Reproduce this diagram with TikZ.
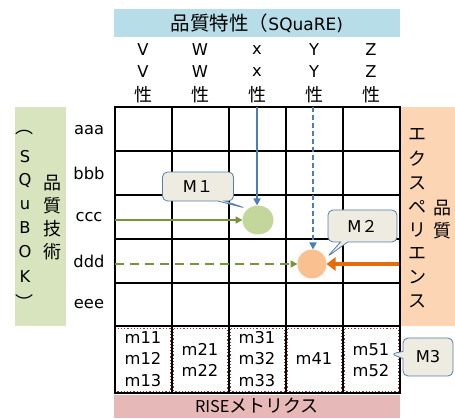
\documentclass[tikz,border=0pt]{standalone}
\usepackage{fontspec}
\setmainfont{DejaVu Sans}
\newfontfamily\jp{Noto Sans CJK JP}
\usetikzlibrary{shapes.geometric,shapes.callouts,arrows.meta}
\definecolor{hdrblue}{RGB}{183,222,232}
\definecolor{lgreen}{RGB}{215,228,189}
\definecolor{lorange}{RGB}{252,213,181}
\definecolor{rosebar}{RGB}{230,185,184}
\definecolor{circgreen}{RGB}{195,214,155}
\definecolor{circorange}{RGB}{250,192,144}
\definecolor{bluearr}{RGB}{74,126,187}
\definecolor{greenarr}{RGB}{119,147,60}
\definecolor{orangearr}{RGB}{228,108,10}
\definecolor{callfill}{RGB}{238,236,225}
\definecolor{callline}{RGB}{85,125,175}
\definecolor{reddot}{RGB}{150,55,53}
\newcommand{\lat}{\fontsize{16.3}{21.5}\selectfont}
\newcommand{\cjk}{\jp\fontsize{18}{22.5}\selectfont}
\newcommand{\tlat}{\fontsize{17}{21.5}\selectfont}
\newcommand{\tcjk}{\jp\fontsize{19.5}{22.5}\selectfont}
\tikzset{
  lbl/.style={inner sep=0pt,outer sep=0pt,font=\lat,align=center},
  gridline/.style={line width=2pt,black},
  dotcell/.style={draw=reddot,dotted,line width=1.2pt},
  callbox/.style={rectangle callout,rounded corners=5pt,fill=callfill,draw=callline,line width=0.8pt,font=\lat,inner sep=0pt},
  blob/.style={ellipse,inner sep=0pt,outer sep=0pt},
}
\begin{document}
\begin{tikzpicture}[x=1pt,y=-1pt]
\useasboundingbox (0,0) rectangle (455,419);
% bands
\fill[hdrblue] (114,9) rectangle (400,37);
\fill[lgreen] (15,107) rectangle (66,326);
\fill[lorange] (400,107) rectangle (455,326);
\fill[rosebar] (114,395) rectangle (400,418);
\node[lbl,font=\tlat] (title) at (257,23) {{\tcjk 品質特性（}SQuaRE)};
% column headers
\foreach \x/\l [count=\i] in {143/V,200/W,257/x,314/Y,371/Z}{
  \node[lbl] (ch\i a) at (\x,50) {\l};
  \node[lbl] (ch\i b) at (\x,72) {\l};
  \node[lbl,font=\cjk] (ch\i c) at (\x,95) {性};
}
% row labels
\foreach \y/\l [count=\i] in {130/aaa,173/bbb,217/ccc,261/ddd,304/eee}{
  \node[lbl] (rl\i) at (89,\y) {\l};
}
% left vertical text
\node[lbl,font=\cjk] (lp1) at (24,133) {︵};
\foreach \y/\l [count=\i] in {157/S,181/Q,205/u,228/B,252/O,277/K}{
  \node[lbl] (sq\i) at (25,\y) {\l};
}
\node[lbl,font=\cjk] (lp2) at (24,302) {︶};
\foreach \y/\l [count=\i] in {183/品,206/質,229/技,252/術}{
  \node[lbl,font=\cjk] (hg\i) at (52,\y) {\l};
}
% right vertical text
\foreach \y/\l [count=\i] in {134/エ,159/ク,183/ス,207/ペ,230/リ,253/エ,277/ン,301/ス}{
  \node[lbl,font=\cjk] (ex\i) at (417,\y) {\l};
}
\node[lbl,font=\cjk] (hq1) at (442,208) {品};
\node[lbl,font=\cjk] (hq2) at (442,231) {質};
% bottom metrics
\foreach \xa/\xb in {114/172,172/229,229/286,286/343,343/400}{
  \draw[dotcell] (\xa+1.8,328.8) rectangle (\xb-1.8,391.2);
}
\node[lbl] (m1) at (143,359) {m11\\m12\\m13};
\node[lbl] (m2) at (200,360) {m21\\m22};
\node[lbl] (m3) at (257,359) {m31\\m32\\m33};
\node[lbl] (m4) at (314,359) {m41};
\node[lbl] (m5) at (371,360) {m51\\m52};
\node[lbl,font=\cjk] (rise) at (257,406) {{\lat RISE}メトリクス};
% grid
\foreach \x in {115,172,229,286,343,400}{
  \draw[gridline] (\x,107) -- (\x,393);
}
\foreach \y in {107,151,195,239,283,326,393}{
  \draw[gridline] (114,\y) -- (401,\y);
}
% circles
\node[blob,fill=circgreen,minimum width=31pt,minimum height=29pt] (c1) at (258,220) {};
\node[blob,fill=circorange,minimum width=29pt,minimum height=29pt] (c2) at (312,264) {};
% arrows
\coordinate (b1) at (257,107);
\coordinate (b2) at (313,107);
\coordinate (g1) at (115,220);
\coordinate (g2) at (115,264);
\coordinate (o1) at (399,264);
\draw[bluearr,line width=1.6pt,-{Triangle[length=7pt,width=7pt]}] (b1) -- (b1 |- c1.north);
\draw[bluearr,line width=1.6pt,dash pattern=on 5pt off 3pt,-{Triangle[length=7pt,width=7pt]}] (b2) -- (b2 |- c2.north);
\draw[greenarr,line width=1.6pt,-{Triangle[length=7pt,width=7pt]}] (g1) -- (c1.west);
\draw[greenarr,line width=1.6pt,dash pattern=on 9pt off 6pt,-{Triangle[length=7pt,width=7pt]}] (g2) -- (c2.west);
\draw[orangearr,line width=3.5pt,-{Triangle[length=9pt,width=13pt]}] (o1) -- (c2.east);
% callouts
\node[callbox,minimum width=71pt,minimum height=29pt,callout absolute pointer={(245,208)}] (k1) at (198,186.5) {M{\jp １}};
\node[callbox,minimum width=69pt,minimum height=32pt,callout absolute pointer={(327,257)}] (k2) at (362.5,226) {M{\jp ２}};
\node[callbox,minimum width=50pt,minimum height=38pt,callout absolute pointer={(391,354)}] (k3) at (428,357) {M3};
\end{tikzpicture}
\end{document}
